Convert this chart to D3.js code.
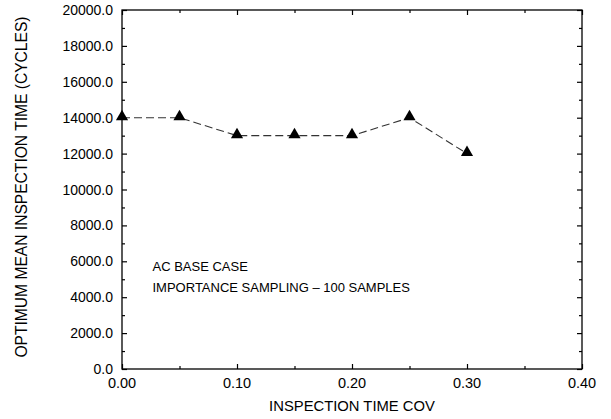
<!DOCTYPE html>
<html>
<head>
<meta charset="utf-8">
<script src="https://cdn.jsdelivr.net/npm/d3@7"></script>
<style>
  body { margin: 0; background: #fff; }
  text { font-family: "Liberation Sans", Arial, sans-serif; fill: #000; }
</style>
</head>
<body>
<svg id="chart" width="611" height="419"></svg>
<script>
  const covValues = [0.00, 0.05, 0.10, 0.15, 0.20, 0.25, 0.30]
  const meanTimes = [14000, 14000, 13000, 13000, 13000, 14000, 12000]
  const xTickValues = [0, 0.1, 0.2, 0.3, 0.4]
  const yTickValues = d3.range(0, 20001, 2000)
  const notes = ["AC BASE CASE", "IMPORTANCE SAMPLING \u2013 100 SAMPLES"]

  const margin = { top: 10, right: 29, bottom: 50, left: 122 }
  const width = 611, height = 419
  const innerWidth = width - margin.left - margin.right
  const innerHeight = 369 - margin.top

  const svg = d3.select("#chart")
  const g = svg.append("g").attr("transform", `translate(${margin.left}, ${margin.top})`)

  const xScale = d3.scaleLinear().domain([0, 0.4]).range([0, innerWidth])
  const yScale = d3.scaleLinear().domain([0, 20000]).range([innerHeight, 0])

  // frame
  g.append("rect").attr("width", innerWidth).attr("height", innerHeight)
   .attr("fill", "none").attr("stroke", "#000").attr("stroke-width", 1.3)

  // inside ticks on all four sides
  const xMinor = d3.range(0.05, 0.4, 0.1)
  const yMinor = d3.range(1000, 20000, 2000)

  const addAxis = (axis, transform, major, minor) => {
    const a = g.append("g").attr("transform", transform)
    a.call(axis.tickValues(major).tickSize(-5).tickFormat(""))
    a.select(".domain").remove()
    a.selectAll(".tick text").remove()
    a.selectAll(".tick line").attr("stroke-width", 1.2)
    const b = g.append("g").attr("transform", transform)
    b.call(axis.tickValues(minor).tickSize(-3).tickFormat(""))
    b.select(".domain").remove()
    b.selectAll(".tick text").remove()
    b.selectAll(".tick line").attr("stroke-width", 1.2)
  }
  addAxis(d3.axisBottom(xScale), `translate(0, ${innerHeight})`, xTickValues, xMinor)
  addAxis(d3.axisTop(xScale), `translate(0, 0)`, xTickValues, xMinor)
  addAxis(d3.axisLeft(yScale), `translate(0, 0)`, yTickValues, yMinor)
  addAxis(d3.axisRight(yScale), `translate(${innerWidth}, 0)`, yTickValues, yMinor)

  // tick labels
  g.selectAll(".xlab").data(xTickValues).join("text")
   .attr("x", d => xScale(d)).attr("y", innerHeight + 19)
   .attr("text-anchor", "middle").attr("font-size", 14.5)
   .text(d => d3.format(".2f")(d))

  g.selectAll(".ylab").data(yTickValues).join("text")
   .attr("x", -9).attr("y", d => yScale(d) + 5)
   .attr("text-anchor", "end").attr("font-size", 14)
   .text(d => d3.format(".1f")(d))

  // axis titles
  svg.append("text").attr("x", margin.left + innerWidth / 2).attr("y", 411)
     .attr("text-anchor", "middle").attr("font-size", 14.8)
     .text("INSPECTION TIME COV")

  svg.append("text")
     .attr("transform", `translate(27, 187) rotate(-90)`)
     .attr("text-anchor", "middle").attr("font-size", 15.6)
     .text("OPTIMUM MEAN INSPECTION TIME (CYCLES)")

  // series
  const line = d3.line().x((d, i) => xScale(covValues[i])).y(d => yScale(d))
  g.append("path").datum(meanTimes).attr("d", line)
   .attr("fill", "none").attr("stroke", "#333").attr("stroke-width", 1.1)
   .attr("stroke-dasharray", "8,4")

  const tri = d3.symbol().type(d3.symbolTriangle).size(64)
  g.selectAll(".pt").data(meanTimes).join("path")
   .attr("d", tri)
   .attr("transform", (d, i) => `translate(${xScale(covValues[i])}, ${yScale(d) - 1})`)
   .attr("fill", "#000")

  // notes
  g.selectAll(".note").data(notes).join("text")
   .attr("x", 30.5).attr("y", (d, i) => 261 + i * 21)
   .attr("font-size", 13)
   .text(d => d)
</script>
</body>
</html>
